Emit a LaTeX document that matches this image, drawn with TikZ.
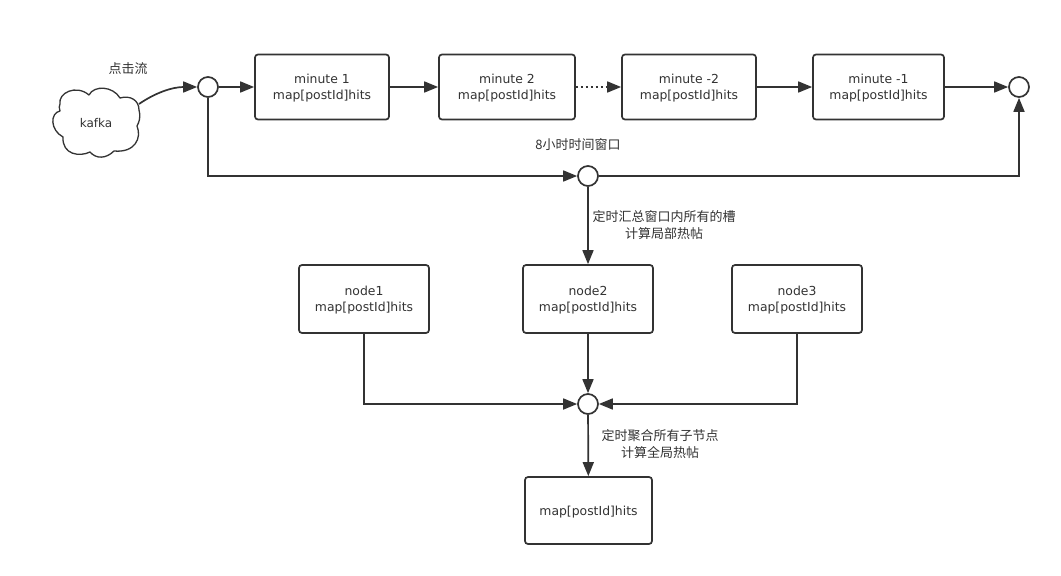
\documentclass[tikz,border=0pt]{standalone}
\usepackage{fontspec}
\setmainfont{DejaVu Sans}
\newfontfamily\cjk{Noto Sans CJK SC}
\usetikzlibrary{arrows.meta,positioning}
\definecolor{ink}{HTML}{333333}
\tikzset{
  x=1pt,y=-1pt,
  box/.style={draw=ink,line width=1.7pt,rounded corners=3pt,align=center,text=ink,font=\fontsize{12.4}{16}\selectfont,inner sep=0pt},
  junction/.style={draw=ink,line width=1.7pt,circle,fill=white,minimum size=20pt,inner sep=0pt},
  link/.style={draw=ink,line width=1.7pt,-{Triangle[length=14pt,width=11pt,fill=ink]}},
  lbl/.style={text=ink,align=center,font=\fontsize{13}{16.5}\selectfont\cjk,inner sep=0pt},
}
\newcommand{\mkbox}[6]{\node[box,minimum width=#4-#3,minimum height=#6-#5] (#1) at ({(#3+#4)/2},{(#5+#6)/2}) {\rule{0pt}{12pt}#2};}
\begin{document}
\begin{tikzpicture}
\useasboundingbox (0,0) rectangle (1061,576);
\fill[white] (0,0) rectangle (1061,576);
% cloud
\draw[ink,line width=1.3pt,fill=white,line join=round]
 (60,104) .. controls (58,93) and (76,84) .. (89,95)
 .. controls (94,85) and (113,86) .. (120,98)
 .. controls (130,95) and (139,100) .. (139,110)
 .. controls (141,118) and (139,122) .. (137,126)
 .. controls (142,138) and (135,153) .. (114,151)
 .. controls (106,159) and (96,159) .. (90,152)
 .. controls (80,157) and (62,155) .. (63,137)
 .. controls (50,130) and (50,113) .. (60,111)
 .. controls (59,108) and (59,106) .. (60,104);
\node[text=ink,font=\fontsize{12}{14}\selectfont,inner sep=0pt] (kafka) at (96,123.5) {kafka};
\coordinate (cloudout) at (139,104);
\node[lbl] (clicks) at (128,69) {点击流};
\node[junction] (start) at (208,87) {};
\node[junction] (finish) at (1019,87) {};
\node[junction] (window) at (588,176) {};
\node[junction] (merge) at (588,404) {};
\mkbox{m1}{minute 1\\map[postId]hits}{255}{389}{54.5}{119.5}
\mkbox{m2}{minute 2\\map[postId]hits}{439}{575}{54.5}{119.5}
\mkbox{m3}{minute -2\\map[postId]hits}{622}{756}{54.5}{119.5}
\mkbox{m4}{minute -1\\map[postId]hits}{813}{944}{54.5}{119.5}
\mkbox{n1}{node1\\map[postId]hits}{299}{429}{265}{333}
\mkbox{n2}{node2\\map[postId]hits}{523}{653}{265}{333}
\mkbox{n3}{node3\\map[postId]hits}{732}{862}{265}{333}
\mkbox{res}{map[postId]hits}{525}{652}{477}{544}
\node[lbl] (winlbl) at (578,145) {8小时时间窗口};
\node[lbl] (sumlbl) at (664,225) {定时汇总窗口内所有的槽\\计算局部热帖};
\node[lbl] (agglbl) at (660,444) {定时聚合所有子节点\\计算全局热帖};
% connectors
\draw[link] (cloudout) .. controls (155,93) and (172,87) .. (start.west);
\draw[link] (start) -- (m1);
\draw[link] (m1) -- (m2);
\draw[link,dash pattern=on 2pt off 3pt] (m2) -- (m3);
\draw[link] (m3) -- (m4);
\draw[link] (m4) -- (finish);
\draw[link] (start.south) |- (window.west);
\draw[link] (window.east) -| (finish.south);
\draw[link] (window) -- (n2);
\draw[link] (n2) -- (merge);
\draw[link] (n1.south) |- (merge.west);
\draw[link] (n3.south) |- (merge.east);
\draw[link] (merge) -- (res);
\end{tikzpicture}
\end{document}
